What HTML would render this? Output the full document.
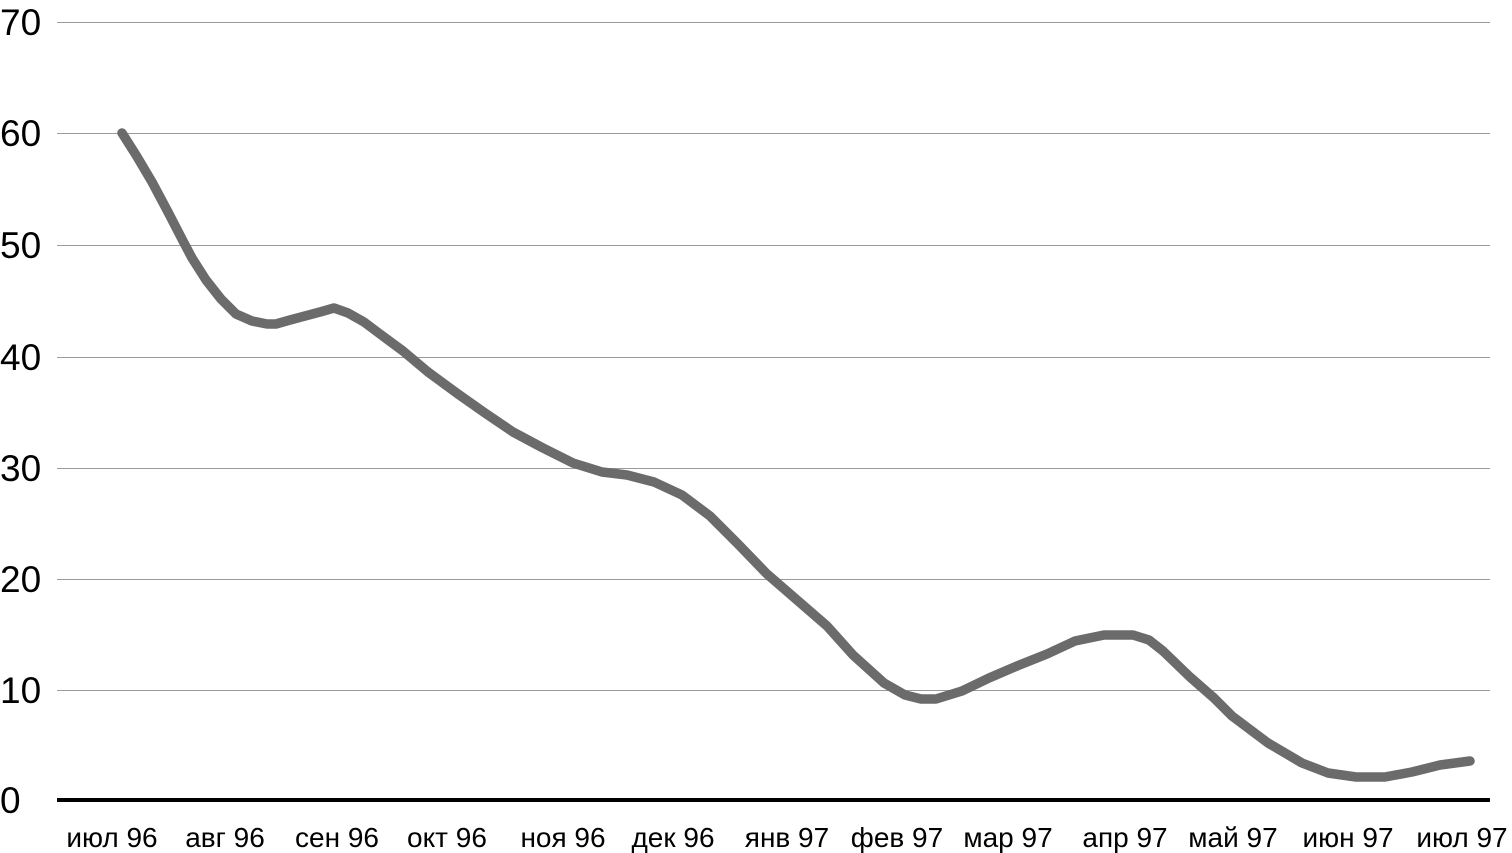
<!DOCTYPE html>
<html><head><meta charset="utf-8"><style>
html,body{margin:0;padding:0;background:#fff;}
svg{display:block;}
text{font-family:"Liberation Sans",sans-serif;fill:#000;}
</style></head><body>
<svg width="1512" height="853" viewBox="0 0 1512 853" xmlns="http://www.w3.org/2000/svg">
<g stroke="#9a9a9a" stroke-width="1">
<line x1="57" y1="22.5" x2="1490" y2="22.5"/>
<line x1="57" y1="133.5" x2="1490" y2="133.5"/>
<line x1="57" y1="245.5" x2="1490" y2="245.5"/>
<line x1="57" y1="357.5" x2="1490" y2="357.5"/>
<line x1="57" y1="468.5" x2="1490" y2="468.5"/>
<line x1="57" y1="579.5" x2="1490" y2="579.5"/>
<line x1="57" y1="690.5" x2="1490" y2="690.5"/>
</g>
<line x1="57" y1="800" x2="1490" y2="800" stroke="#000" stroke-width="4"/>
<g font-size="37">
<text x="0" y="35">70</text>
<text x="0" y="146">60</text>
<text x="0" y="258">50</text>
<text x="0" y="370">40</text>
<text x="0" y="481">30</text>
<text x="0" y="592">20</text>
<text x="0" y="703">10</text>
<text x="0" y="813">0</text>
</g>
<g font-size="28" text-anchor="middle">
<text x="112" y="847">июл 96</text>
<text x="225" y="847">авг 96</text>
<text x="337" y="847">сен 96</text>
<text x="447" y="847">окт 96</text>
<text x="563" y="847">ноя 96</text>
<text x="673" y="847">дек 96</text>
<text x="787" y="847">янв 97</text>
<text x="897" y="847">фев 97</text>
<text x="1008" y="847">мар 97</text>
<text x="1125" y="847">апр 97</text>
<text x="1233" y="847">май 97</text>
<text x="1348" y="847">июн 97</text>
<text x="1462" y="847">июл 97</text>
</g>
<polyline fill="none" stroke="#6b6b6c" stroke-width="9.5" stroke-linecap="round" stroke-linejoin="round"
points="122,133 136,155 152,182 168,212 183,241 192,258 206,280 221,299 236,314 252,321 267,324 276,324 290,320 305,316 320,312 334,308 348,313 364,322 380,334 403,351 428,372 458,394 485,413 513,432 543,448 573,463 602,472 627,475 654,482 682,495 710,516 737,543 767,574 797,600 827,626 853,655 884,683 905,695 921,699 936,699 962,691 989,678 1017,666 1047,654 1075,641 1104,635 1133,635 1149,640 1163,651 1190,677 1214,698 1232,716 1268,743 1302,763 1328,773 1356,777 1385,777 1412,772 1440,765 1470,761"/>
</svg>
</body></html>
